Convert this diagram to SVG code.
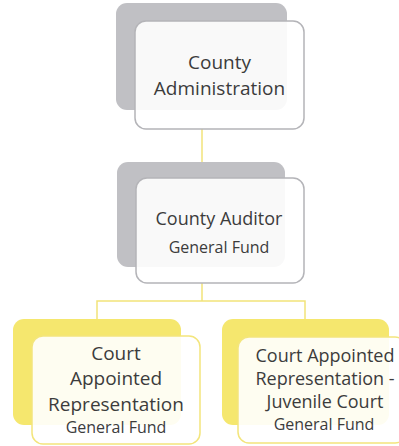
<svg xmlns="http://www.w3.org/2000/svg" width="399" height="446" viewBox="0 0 399 446">
<style>
.bg-gray{fill:#c0c0c4}
.bg-yel{fill:#f5e76e}
.fr-gray{fill:#ffffff;fill-opacity:0.9;stroke:#b4b4b8;stroke-width:1.5}
.fr-yel{fill:#ffffff;fill-opacity:0.9;stroke:#f3e57c;stroke-width:1.5}
.conn{fill:none;stroke:#f2e37a;stroke-width:1.5}
text{font-family:"Open Sans","Noto Sans",sans-serif;fill:#3c3c3c;text-anchor:middle}
.big{font-size:19px}
.mid{font-size:18px}
.rt{font-size:18px}
.sm{font-size:16px}
</style>
<rect width="399" height="446" fill="#ffffff"/>
<g id="connectors">
<path class="conn" d="M202 129 V162"/>
<path class="conn" d="M202 283 V301 M97 319 V301 H305 V319"/>
</g>
<g id="node-county-administration">
<rect class="bg-gray" x="116" y="3" width="171" height="107" rx="11"/>
<rect class="fr-gray" x="135" y="21" width="169" height="108" rx="11"/>
<text class="big" x="219.5" y="69">County</text>
<text class="big" x="219.5" y="95">Administration</text>
</g>
<g id="node-county-auditor">
<rect class="bg-gray" x="117" y="162" width="168" height="105" rx="11"/>
<rect class="fr-gray" x="136" y="178" width="168" height="105" rx="11"/>
<text class="mid" x="219" y="225">County Auditor</text>
<text class="sm" x="219" y="253">General Fund</text>
</g>
<g id="node-court-appointed">
<rect class="bg-yel" x="13" y="319" width="168" height="106" rx="11"/>
<rect class="fr-yel" x="32" y="336" width="168" height="108" rx="11"/>
<text class="big" x="116" y="360">Court</text>
<text class="big" x="116" y="385">Appointed</text>
<text class="big" x="116" y="410.5">Representation</text>
<text class="sm" x="116" y="433">General Fund</text>
</g>
<g id="node-court-appointed-juvenile">
<rect class="bg-yel" x="222" y="319" width="167" height="106" rx="11"/>
<rect class="fr-yel" x="238" y="337" width="168" height="106" rx="11"/>
<text class="rt" x="325" y="362">Court Appointed</text>
<text class="rt" x="325" y="385">Representation -</text>
<text class="rt" x="325" y="408">Juvenile Court</text>
<text class="sm" x="324" y="430">General Fund</text>
</g>
</svg>
